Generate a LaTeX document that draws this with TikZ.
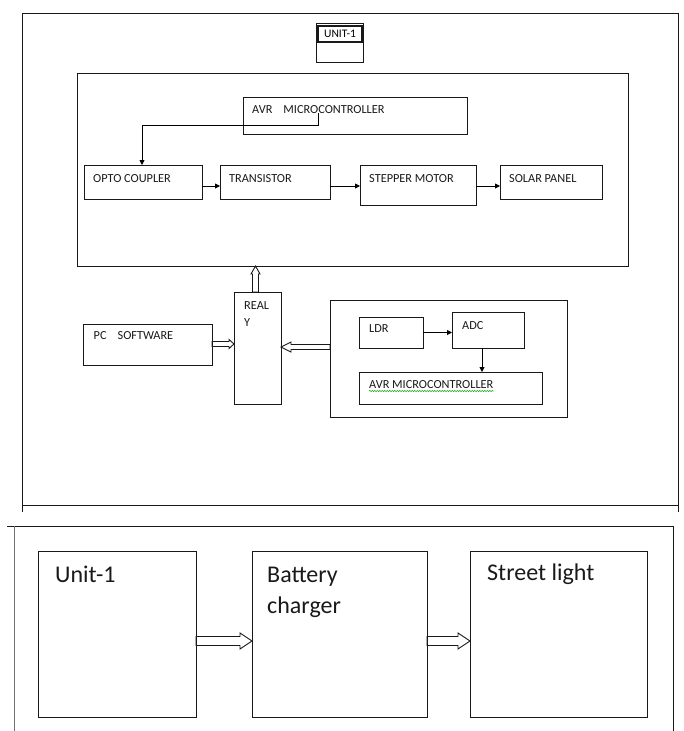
\documentclass[tikz,border=0pt]{standalone}
\usepackage{fontspec}
\setmainfont{Carlito}
\usetikzlibrary{arrows.meta,calc,decorations.pathmorphing}
\tikzset{
 box/.style={draw=black!90, line width=1pt, anchor=north west, inner sep=0pt, outer sep=0pt},
 lbl/.style={anchor=base west, inner sep=0pt, text=black!90, font=\fontsize{12.3}{14}\selectfont},
 big/.style={anchor=base west, inner sep=0pt, text=black!90, font=\fontsize{24}{29}\selectfont},
 conn/.style={draw=black, line width=0.9pt, -{Triangle[length=5pt,width=5pt]}},
 frame/.style={draw=black!90, line width=1pt},
 hollow/.style n args={3}{draw=black!90, line width=0.9pt, to path={
   ($(\tikztostart)!#1!90:(\tikztotarget)$)
   -- ($(\tikztotarget)!#3!(\tikztostart)!#1!90:(\tikztotarget)$)
   -- ($(\tikztotarget)!#3!(\tikztostart)!#2!90:(\tikztotarget)$)
   -- (\tikztotarget)
   -- ($(\tikztotarget)!#3!(\tikztostart)!#2!-90:(\tikztotarget)$)
   -- ($(\tikztotarget)!#3!(\tikztostart)!#1!-90:(\tikztotarget)$)
   -- ($(\tikztostart)!#1!-90:(\tikztotarget)$)
   -- cycle}}
}
\begin{document}
\begin{tikzpicture}[x=1pt,y=-1pt]
\useasboundingbox (0,0) rectangle (683,731);
% frames
\draw[frame] (22,512) -- (22,13) -- (678,13) -- (678,512);
\draw[frame] (22,505) -- (678,505);
\draw[frame] (7,526) -- (673,526);
\draw[frame, draw=black!55] (14,526) -- (14,731);
\draw[frame] (673,526) -- (673,731);
% unit-1 label boxes
\node[box, minimum width=47pt, minimum height=39pt] (unitout) at (316,23) {};
\node[box, line width=1.6pt, minimum width=44pt, minimum height=16pt] (unitin) at (318,26) {};
\node[font=\fontsize{11.5}{13}\selectfont, inner sep=0pt] (unitt) at (unitin.center) {UNIT-1};
% top block
\node[box, minimum width=551pt, minimum height=193pt] (inner) at (77,73) {};
\node[box, minimum width=224pt, minimum height=37pt] (avr1) at (243,97) {};
\node[box, minimum width=118pt, minimum height=34pt] (opto) at (84,165) {};
\node[box, minimum width=110pt, minimum height=34pt] (trans) at (220,165) {};
\node[box, minimum width=116pt, minimum height=40pt] (step) at (360,165) {};
\node[box, minimum width=102pt, minimum height=34pt] (solar) at (500,165) {};
% middle
\node[box, minimum width=47pt, minimum height=112pt] (relay) at (234,292) {};
\node[box, minimum width=129pt, minimum height=41pt] (pc) at (83,324) {};
\node[box, minimum width=237pt, minimum height=117pt] (rf) at (330,300) {};
\node[box, minimum width=64pt, minimum height=31pt] (ldr) at (359,317) {};
\node[box, minimum width=72pt, minimum height=36pt] (adc) at (452,312) {};
\node[box, minimum width=183pt, minimum height=32pt] (avr2) at (359,372) {};
% bottom
\node[box, minimum width=158pt, minimum height=166pt] (u1) at (38,551) {};
\node[box, minimum width=175pt, minimum height=166pt] (bc) at (252,551) {};
\node[box, minimum width=177pt, minimum height=166pt] (sl) at (470,551) {};
% texts
\node[lbl] (avr1t) at (252,113) {AVR\hspace{11pt}MICROCONTROLLER};
\node[lbl] (optot) at (93,182) {OPTO COUPLER};
\node[lbl] (transt) at (229,182) {TRANSISTOR};
\node[lbl] (stept) at (369,182) {STEPPER MOTOR};
\node[lbl] (solart) at (509,182) {SOLAR PANEL};
\node[lbl] (relayt1) at (244,309) {REAL};
\node[lbl] (relayt2) at (244,326) {Y};
\node[lbl] (pct) at (93.5,339) {PC\hspace{11pt}SOFTWARE};
\node[lbl] (ldrt) at (369,332) {LDR};
\node[lbl] (adct) at (462,329) {ADC};
\node[lbl] (avr2t) at (369,388) {AVR MICROCONTROLLER};
\node[big] (u1t) at (55,582) {Unit-1};
\node[big] (bct1) at (267,582) {Battery};
\node[big] (bct2) at (267,613) {charger};
\node[big] (slt) at (487,580) {Street light};
\draw[decorate, decoration={snake, amplitude=0.6pt, segment length=2.5pt}, draw=green!60!black, line width=0.5pt]
  ([yshift=-3pt]avr2t.base west) -- ([yshift=-3pt]avr2t.base east);
% connectors
\coordinate (avrout) at (318,113);
\draw[conn] (avrout) -- ++(0,12) -| ([xshift=58pt]opto.north west);
\draw[conn] ([yshift=-21pt]opto.north east) -- ([yshift=-21pt]trans.north west);
\draw[conn] ([yshift=-21pt]trans.north east) -- ([yshift=-21pt]step.north west);
\draw[conn] ([yshift=-21pt]step.north east) -- ([yshift=-21pt]solar.north west);
\draw[conn] (ldr.east) -- (ldr.east -| adc.west);
\draw[conn] ([xshift=30pt]adc.south west) -- ([xshift=30pt]adc.south west |- avr2.north);
% hollow arrows
\coordinate (h1s) at ([xshift=-2pt]relay.north);
\coordinate (h1e) at (h1s |- inner.south);
\draw[hollow={3pt}{4.5pt}{8pt}] (h1s) to (h1e);
\coordinate (h2s) at ([yshift=-20pt]pc.north east);
\coordinate (h2e) at (h2s -| relay.west);
\draw[hollow={2.5pt}{4.5pt}{5pt}] (h2s) to (h2e);
\coordinate (h3s) at ([yshift=-47pt]rf.north west);
\coordinate (h3e) at (h3s -| relay.east);
\draw[hollow={2.5pt}{5pt}{10pt}] (h3s) to (h3e);
\coordinate (b1s) at ([yshift=-90pt]u1.north east);
\coordinate (b1e) at (b1s -| bc.west);
\draw[hollow={4.5pt}{8pt}{12pt}] (b1s) to (b1e);
\coordinate (b2s) at ([yshift=-90pt]bc.north east);
\coordinate (b2e) at (b2s -| sl.west);
\draw[hollow={4.5pt}{8pt}{12pt}] (b2s) to (b2e);
\end{tikzpicture}
\end{document}
